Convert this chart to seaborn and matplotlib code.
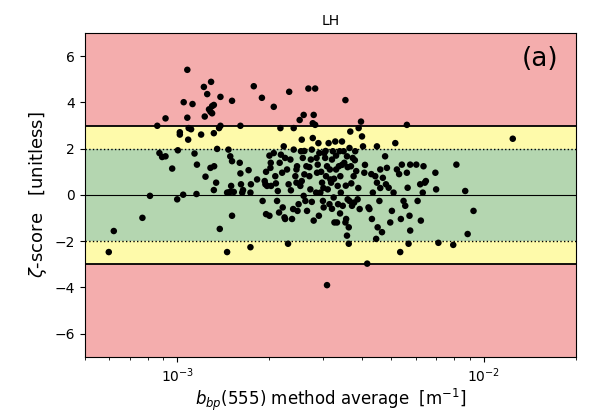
import numpy as np
import pandas as pd
import matplotlib
matplotlib.use('Agg')
import matplotlib.pyplot as plt
import seaborn as sns

# bbp(555) method average, in units of 1e-3 m^-1
bbp_e3 = [0.598, 0.621, 0.770, 0.815, 0.861, 0.916, 0.875, 0.893, 0.916, 0.963,
          1.005, 1.0, 1.02, 1.02, 1.046, 1.05, 1.079, 1.079, 1.086, 1.09,
          1.122, 1.11, 1.139, 1.156, 1.16, 1.197, 1.222, 1.23, 1.237, 1.253,
          1.27, 1.284, 1.29, 1.30, 1.317, 1.317, 1.30, 1.32, 1.284, 1.317,
          1.34, 1.35, 1.37, 1.384, 1.377, 1.384, 1.455, 1.455, 1.47, 1.49,
          1.51, 1.51, 1.47, 1.50, 1.51, 1.53, 1.49, 1.608, 1.60, 1.608,
          1.615, 1.63, 1.64, 1.734, 1.71, 1.74, 1.734, 1.778, 1.823, 1.89,
          1.90, 1.93, 1.94, 1.95, 1.965, 2.0, 2.0, 2.02, 2.015, 2.025,
          2.066, 2.066, 2.09, 2.118, 2.13, 2.15, 2.16, 2.172, 2.18, 2.20,
          2.21, 2.227, 2.24, 2.25, 2.283, 2.30, 2.31, 2.32, 2.341, 2.37,
          2.39, 2.40, 2.40, 2.43, 2.45, 2.461, 2.47, 2.49, 2.51, 2.523,
          2.535, 2.55, 2.57, 2.587, 2.587, 2.60, 2.62, 2.64, 2.653, 2.68,
          2.70, 2.72, 2.73, 2.75, 2.77, 2.77, 2.789, 2.789, 2.82, 2.82,
          2.84, 2.86, 2.875, 2.89, 2.91, 2.932, 2.97, 2.99, 3.006, 3.02,
          3.04, 3.06, 3.083, 3.083, 3.10, 3.12, 3.14, 3.161, 3.18, 3.20,
          3.22, 3.241, 3.26, 3.28, 3.30, 3.323, 3.34, 3.37, 3.39, 3.407,
          3.42, 3.45, 3.47, 3.493, 3.51, 3.54, 3.54, 3.56, 3.582, 3.582,
          3.60, 3.63, 3.63, 3.65, 3.65, 3.672, 3.69, 3.72, 3.74, 3.765,
          3.78, 3.81, 3.84, 3.88, 3.91, 3.94, 3.98, 4.01, 4.04, 4.08,
          4.17, 4.21, 4.24, 4.32, 4.35, 4.43, 4.46, 4.486, 4.486, 4.51,
          4.57, 4.60, 4.66, 4.69, 4.77, 4.80, 4.835, 4.90, 4.958, 5.02,
          5.083, 5.15, 5.212, 5.344, 5.37, 5.41, 5.479, 5.55, 5.618, 5.618,
          5.65, 5.69, 5.73, 5.76, 5.76, 6.03, 6.09, 6.209, 6.24, 6.33,
          6.366, 6.43, 6.48, 6.96, 7.0, 7.12, 7.96, 8.15, 8.71, 8.87,
          9.27, 12.45,
          2.25, 2.35, 2.45, 2.55, 2.6, 2.7, 2.75, 2.85, 2.95, 3.0,
          3.05, 3.15, 3.25, 3.3, 3.35, 3.45, 3.55, 3.6, 3.7, 3.8,
          3.9, 4.1, 4.3, 4.6, 5.3, 2.1, 1.95, 3.4, 3.2, 2.9]

zeta = [-2.47, -1.56, -0.99, -0.04, 2.99, 3.31, 1.81, 1.64, 1.67, 1.14,
        1.93, -0.19, 2.71, 2.61, 0.01, 4.01, 5.41, 3.34, 2.39, 2.89,
        3.93, 2.84, 1.79, 0.04, 1.31, 2.61, 4.67, 3.39, 0.79, 4.36,
        3.70, 3.60, 4.89, 3.84, 3.89, 2.67, 3.53, 1.24, 1.17, 0.21,
        0.53, 1.99, 2.89, 4.24, -1.47, 2.99, -2.47, 0.10, 1.96, 1.67,
        4.07, -0.90, 0.10, 0.39, 1.46, 0.13, 0.13, 2.99, 1.39, 0.93,
        0.46, 0.10, 0.21, -2.26, 1.07, 0.46, 0.10, 4.70, 0.67, 4.20,
        -0.26, 0.60, 0.46, -0.83, 0.39, 1.70, -0.90, 1.39, 1.17, 0.39,
        3.81, 1.81, 0.81, -0.26, 0.17, -0.76, 1.39, 2.89, 1.74, 0.96,
        -0.54, 2.10, -0.97, -1.04, 1.10, -2.11, 0.46, 4.46, 1.53, -1.04,
        -0.61, 1.96, 2.89, 0.81, 0.53, 1.24, -0.69, -0.40, 3.24, 0.39,
        1.89, 2.39, 1.60, 3.46, -0.04, 0.89, -0.26, 1.24, -0.69, 4.60,
        0.81, 0.24, 1.53, 1.96, 2.46, 3.10, -1.11, 3.46, 4.60, 3.03,
        0.10, 0.96, 1.31, 2.24, 1.81, 0.10, 0.53, -0.26, -0.54, 1.81,
        1.60, 0.81, -3.90, 1.24, 0.24, 2.24, -0.40, 0.67, 0.53, 1.53,
        1.89, -0.11, -1.19, 2.31, 1.10, -1.19, 0.39, 1.24, 1.89, 0.81,
        0.10, 2.31, -0.47, 1.89, 1.39, 4.10, -1.19, -1.04, -1.76, 1.67,
        -0.19, -1.40, -2.11, 2.03, -0.26, 2.74, 1.24, -0.47, 1.60, 0.81,
        -0.33, 1.89, 1.03, -0.19, 2.89, -0.61, 3.17, 2.53, 2.10, 0.96,
        -2.97, -0.54, -0.61, -1.04, 0.10, 0.81, -1.90, 2.10, 0.53, -1.40,
        -0.26, 1.10, -1.61, 0.74, 1.67, 0.46, 1.17, 0.31, -1.19, -0.69,
        0.10, 2.24, 1.10, -2.47, -1.04, 1.31, -0.26, -0.47, 3.03, 0.96,
        0.31, -2.11, -0.90, -1.54, 1.31, 1.31, -0.26, 0.46, -1.11, 0.10,
        1.24, 0.53, 0.60, 0.96, 0.24, -2.07, -2.16, 1.31, 0.17, -1.69,
        -0.69, 2.43,
        1.6, 0.2, 1.1, 0.6, 1.9, 1.2, -0.3, 1.6, 1.0, 0.3,
        1.9, 1.1, 0.7, 1.7, -0.4, 1.3, 0.4, 1.2, 0.5, 1.5,
        0.3, 1.3, 0.9, 0.3, 0.9, 0.5, 1.0, -0.8, -0.6, -0.9]

df = pd.DataFrame({'bbp': np.array(bbp_e3) * 1e-3, 'zeta': zeta})

fig = plt.figure(figsize=(5.9, 4.13), dpi=100)
ax = fig.add_axes([0.144, 0.136, 0.832, 0.784])

# background bands
red_c, yel_c, grn_c = '#f4adad', '#fefaaa', '#b4d6b0'
ax.axhspan(3, 7, color=red_c, lw=0)
ax.axhspan(-7, -3, color=red_c, lw=0)
ax.axhspan(2, 3, color=yel_c, lw=0)
ax.axhspan(-3, -2, color=yel_c, lw=0)
ax.axhspan(-2, 2, color=grn_c, lw=0)

ax.axhline(3, color='black', lw=1.3)
ax.axhline(-3, color='black', lw=1.3)
ax.axhline(2, color='black', lw=1, ls=':')
ax.axhline(-2, color='black', lw=1, ls=':')
ax.axhline(0, color='black', lw=0.8)

sns.scatterplot(data=df, x='bbp', y='zeta', color='black', s=22,
                edgecolor='none', ax=ax, zorder=3)

ax.set_xscale('log')
ax.set_xlim(5e-4, 2e-2)
ax.set_ylim(-7, 7)
ax.set_yticks([-6, -4, -2, 0, 2, 4, 6])
ax.set_title('LH', fontsize=10)
ax.set_xlabel(r'$b_{bp}$(555) method average  [m$^{-1}$]', fontsize=12, labelpad=1)
ax.set_ylabel(r'$\zeta$-score   [unitless]', fontsize=13)
ax.text(0.965, 0.96, '(a)', transform=ax.transAxes, fontsize=19,
        ha='right', va='top')

fig.savefig('out.png', dpi=100)
